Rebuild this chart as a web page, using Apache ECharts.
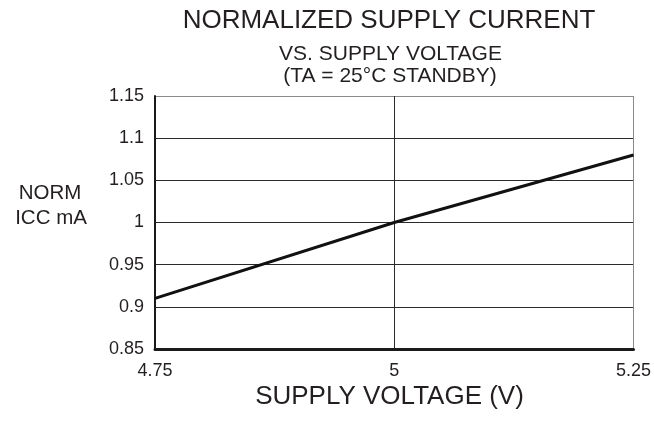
<!DOCTYPE html>
<html>
<head>
<meta charset="utf-8">
<script src="https://cdn.jsdelivr.net/npm/echarts@6/dist/echarts.min.js"></script>
<style>html,body{margin:0;padding:0;background:#fff}#c{width:654px;height:423px}</style>
</head>
<body>
<div id="c"></div>
<script>
var voltage = [4.75, 5.0, 5.25];
var normIcc = [0.91, 1.0, 1.08];
var xTicks = [4.75, 5, 5.25];
var yTicks = [0.85, 0.9, 0.95, 1, 1.05, 1.1, 1.15];
var titleText = 'NORMALIZED SUPPLY CURRENT';
var subText1 = 'VS. SUPPLY VOLTAGE';
var subText2 = '(TA = 25°C STANDBY)';
var xName = 'SUPPLY VOLTAGE (V)';
var yName = ['NORM', 'ICC mA'];

var ink = '#231f20';
var FF = '"Liberation Sans", Arial, Helvetica, sans-serif';
var chart = echarts.init(document.getElementById('c'), null, {renderer: 'canvas'});
var data = voltage.map(function (v, i) { return [v, normIcc[i]]; });

function txt(t, x, y, size, align) {
  return {type: 'text', x: x, y: y, silent: true,
    style: {text: t, fill: ink, font: 'normal ' + size + 'px ' + FF,
      textAlign: align || 'center', textVerticalAlign: 'middle'}};
}

chart.setOption({
  animation: false,
  backgroundColor: '#fff',
  grid: {left: 155, right: 18, top: 96, bottom: 74, containLabel: false},
  xAxis: {
    type: 'value', min: xTicks[0], max: xTicks[xTicks.length - 1], interval: 0.25,
    axisLine: {show: true, onZero: false, lineStyle: {color: '#1a1a1a', width: 3}},
    axisTick: {show: false},
    axisLabel: {color: ink, fontSize: 18, fontFamily: FF, margin: 13,
      formatter: function (v) { return String(+v.toFixed(2)); }},
    splitLine: {show: true, lineStyle: {color: ['#2a2a2a', '#2a2a2a', '#8a8a8a'], width: 1}}
  },
  yAxis: {
    type: 'value', min: yTicks[0], max: yTicks[yTicks.length - 1], interval: 0.05,
    axisLine: {show: true, onZero: false, lineStyle: {color: '#1a1a1a', width: 2}},
    axisTick: {show: false},
    axisLabel: {color: ink, fontSize: 18, fontFamily: FF, margin: 11,
      formatter: function (v) { return String(+v.toFixed(2)); }},
    splitLine: {show: true, lineStyle: {color: ['#2a2a2a', '#2a2a2a', '#2a2a2a', '#2a2a2a', '#2a2a2a', '#2a2a2a', '#8a8a8a'], width: 1}}
  },
  series: [{
    type: 'line', data: data, showSymbol: false, symbol: 'none',
    lineStyle: {color: '#111', width: 3}, z: 5
  }],
  graphic: [
    txt(titleText, 389, 21, 26),
    txt(subText1, 390.5, 54, 21),
    txt(subText2, 390, 76.5, 21),
    txt(xName, 389.5, 397, 26),
    txt(yName[0], 50, 193.5, 20.5),
    txt(yName[1], 51, 218, 20.5)
  ]
});
</script>
</body>
</html>
